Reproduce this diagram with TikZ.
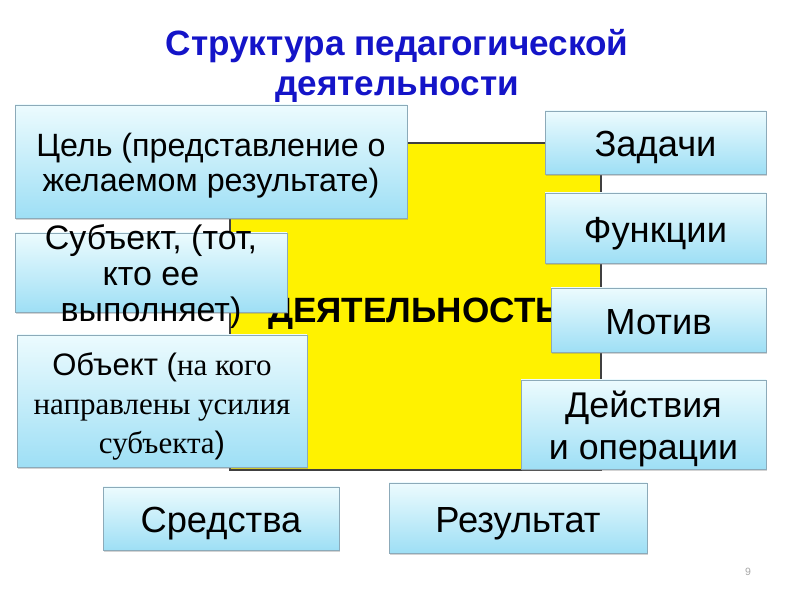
\documentclass[tikz,border=0pt]{standalone}
\usepackage{fontspec}
\setmainfont{Liberation Sans}
\newfontfamily\serifcyr{Liberation Serif}
\usetikzlibrary{shadows}
\definecolor{ttlblue}{RGB}{20,20,200}
\definecolor{bxtop}{RGB}{236,251,254}
\definecolor{bxbot}{RGB}{158,223,245}
\definecolor{bxline}{RGB}{140,170,185}
\newcommand\txtdown[1]{\raisebox{-5pt}[\height][\depth]{\begin{tabular}{@{}c@{}}#1\end{tabular}}}
\tikzset{blk/.style={draw=bxline, top color=bxtop, bottom color=bxbot, inner sep=0pt,
  drop shadow={opacity=0.35, shadow xshift=1.2pt, shadow yshift=-1.5pt},
  font=\fontsize{31}{36}\selectfont},
  dims/.style 2 args={minimum width=#1*0.03cm, minimum height=#2*0.03cm}}

\begin{document}
\begin{tikzpicture}[x=0.03cm, y=-0.03cm]
\useasboundingbox (0,0) rectangle (800,600);
\node[text=ttlblue, align=center, font=\bfseries\fontsize{30}{34}\selectfont] (title) at (397,66)
  {Структура педагогической\\деятельности};
% yellow field
\node[draw=black!75, fill=yellow, line width=1pt, inner sep=0pt, dims={371}{327}] (act) at (415.5,306.5) {};
\node[anchor=west, inner sep=0pt, font=\bfseries\fontsize{30}{32}\selectfont] (actlbl) at (268,314) {ДЕЯТЕЛЬНОСТЬ};
% left column
\node[blk, dims={392}{113}, font=\fontsize{27.5}{30}\selectfont] (cel) at (211,161.5)
  {\txtdown{Цель (представление о\\желаемом результате)}};
\node[blk, dims={272}{79}, font=\fontsize{29}{31}\selectfont,
  label={[font=\fontsize{29}{31}\selectfont]center:{\txtdown{Субъект, (тот,\\кто ее\\выполняет)}}}] (subj) at (151,272.5) {};
\node[blk, dims={290}{132}, font=\fontsize{26.5}{33}\selectfont] (obj) at (162,401)
  {\txtdown{Объект ({\serifcyr на кого}\\{\serifcyr направлены усилия}\\{\serifcyr субъекта})}};
% right column and bottom row
\foreach \n/\x/\y/\w/\h/\t in {zad/655.5/142.5/221/63/Задачи, fun/655.5/228/221/70/Функции,
  mot/658.5/320/215/64/Мотив, sred/221/518.5/236/63/Средства, rez/518/518/258/70/Результат}{
  \node[blk, dims={\w}{\h}] (\n) at (\x,\y) {\txtdown{\t}};
}
\node[blk, dims={245}{89}, font=\fontsize{30.5}{36}\selectfont] (dej) at (643.5,424.5)
  {\txtdown{Действия\\и операции}};
\node[text=gray!70, font=\fontsize{9}{10}\selectfont] (pg) at (748,572) {9};
\end{tikzpicture}
\end{document}
